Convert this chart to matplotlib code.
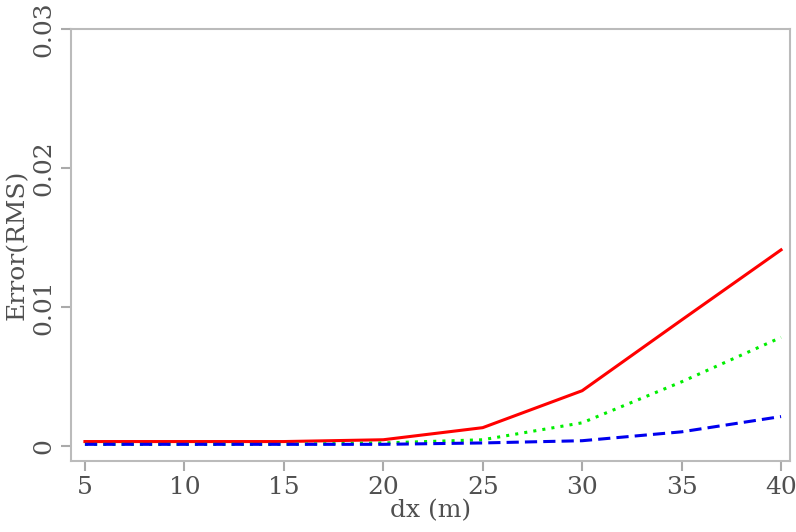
import matplotlib
matplotlib.use("Agg")
import matplotlib.pyplot as plt

dx = [5, 10, 15, 20, 25, 30, 35, 40]
err_red = [0.0003, 0.0003, 0.0003, 0.00043, 0.0013, 0.00396, 0.00905, 0.0141]
err_green = [0.0001, 0.0001, 0.0001, 0.0002, 0.00043, 0.00165, 0.0046, 0.0078]
err_blue = [0.0001, 0.0001, 0.0001, 0.0001, 0.0002, 0.00036, 0.0010, 0.0021]

xticks = [5, 10, 15, 20, 25, 30, 35, 40]
yticks = [0, 0.01, 0.02, 0.03]
ytick_labels = ["0", "0.01", "0.02", "0.03"]

fig = plt.figure(figsize=(7.96, 5.32), dpi=100)
ax = fig.add_axes([71/796, 1-461/532, (790-71)/796, (461-29)/532])

ax.plot(dx, err_red, color="#ff0000", lw=2.2, ls="-")
ax.plot(dx, err_green, color="#00ee00", lw=2.2, ls=(0, (1, 2)))
ax.plot(dx, err_blue, color="#0000ee", lw=2.2, ls=(0, (4, 2)))

ax.set_xlim(4.3, 40.45)
ax.set_ylim(-0.0011, 0.03)

tc = "#505050"
fam = "DejaVu Serif"
fs = 18
ax.set_xticks(xticks)
ax.set_xticklabels([str(v) for v in xticks], fontsize=fs, color=tc, family=fam)
ax.set_yticks(yticks)
ax.set_yticklabels(ytick_labels, fontsize=fs, color=tc, family=fam,
                   rotation=90, va="center")
ax.tick_params(axis="both", colors="#aaaaaa", length=7, width=1.5,
               labelcolor=tc, pad=4)
for s in ax.spines.values():
    s.set_color("#bbbbbb")
    s.set_linewidth(1.5)

ax.set_xlabel("dx (m)", fontsize=fs, color=tc, family=fam, labelpad=0)
ax.set_ylabel("Error(RMS)", fontsize=fs, color=tc, family=fam, labelpad=3)

fig.savefig("out.png", dpi=100)
